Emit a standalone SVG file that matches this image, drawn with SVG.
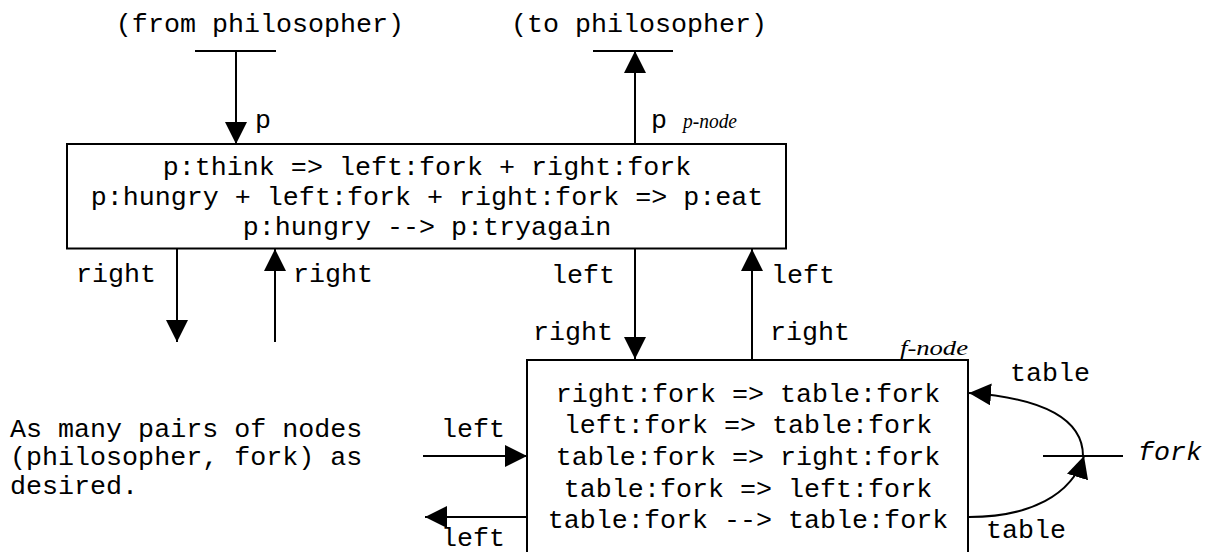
<svg xmlns="http://www.w3.org/2000/svg" width="1208" height="552" viewBox="0 0 1208 552">
  <style>
    .mono { font-family: "Liberation Mono", "Courier New", monospace; font-size: 26.7px; fill: #000; }
    .ital { font-family: "Liberation Serif", "Times New Roman", serif; font-style: italic; font-size: 21px; fill: #000; }
    .monoit { font-family: "Liberation Mono", "Courier New", monospace; font-style: italic; font-size: 26.7px; fill: #000; }
    .box { fill: #fff; stroke: #000; stroke-width: 2; }
    .wire { fill: none; stroke: #000; stroke-width: 2; }
    .mid { text-anchor: middle; }
  </style>
  <defs>
    <marker id="arrow" markerUnits="userSpaceOnUse" markerWidth="22" markerHeight="22" viewBox="0 0 20 20" refX="20" refY="10" orient="auto">
      <path d="M0,0 L20,10 L0,20 Z" fill="#000"/>
    </marker>
  </defs>
  <rect width="1208" height="552" fill="#fff"/>

  <!-- p-node: philosopher rules -->
  <g id="p-node">
    <rect class="box" x="67" y="144" width="719" height="104.5"/>
    <text class="mono mid" x="427" y="175">p:think =&gt; left:fork + right:fork</text>
    <text class="mono mid" x="427" y="205">p:hungry + left:fork + right:fork =&gt; p:eat</text>
    <text class="mono mid" x="427" y="235">p:hungry --&gt; p:tryagain</text>
    <text class="ital" x="683" y="128" textLength="54" lengthAdjust="spacingAndGlyphs">p-node</text>
  </g>

  <!-- f-node: fork rules (box runs past the bottom edge) -->
  <g id="f-node">
    <path class="box" d="M527,560 L527,360 L968,360 L968,560"/>
    <text class="mono mid" x="748" y="401.7">right:fork =&gt; table:fork</text>
    <text class="mono mid" x="748" y="433.3">left:fork =&gt; table:fork</text>
    <text class="mono mid" x="748" y="465">table:fork =&gt; right:fork</text>
    <text class="mono mid" x="748" y="496.7">table:fork =&gt; left:fork</text>
    <text class="mono mid" x="748" y="528.3">table:fork --&gt; table:fork</text>
    <text class="ital" x="900" y="355" textLength="68" lengthAdjust="spacingAndGlyphs">f-node</text>
  </g>

  <!-- external ports -->
  <g id="port-from-philosopher">
    <line class="wire" x1="195" y1="51" x2="276" y2="51"/>
    <text class="mono mid" x="260" y="32">(from philosopher)</text>
  </g>
  <g id="port-to-philosopher">
    <line class="wire" x1="593" y1="51" x2="673" y2="51"/>
    <text class="mono mid" x="639" y="32">(to philosopher)</text>
  </g>
  <g id="port-fork">
    <line class="wire" x1="1043" y1="456" x2="1123" y2="456"/>
    <text class="monoit" x="1138" y="460">fork</text>
  </g>

  <g id="note">
    <text class="mono" x="10" y="437">As many pairs of nodes</text>
    <text class="mono" x="10" y="465">(philosopher, fork) as</text>
    <text class="mono" x="10" y="494">desired.</text>
  </g>

  <!-- connectors -->
  <g id="connectors">
    <line class="wire" x1="236" y1="51" x2="236" y2="144" marker-end="url(#arrow)"/>
    <line class="wire" x1="635" y1="144" x2="635" y2="51" marker-end="url(#arrow)"/>

    <line class="wire" x1="177" y1="249" x2="177" y2="342" marker-end="url(#arrow)"/>
    <line class="wire" x1="275" y1="342" x2="275" y2="249" marker-end="url(#arrow)"/>

    <line class="wire" x1="635" y1="249" x2="635" y2="359" marker-end="url(#arrow)"/>
    <line class="wire" x1="752" y1="360" x2="752" y2="249" marker-end="url(#arrow)"/>

    <line class="wire" x1="423" y1="456" x2="527" y2="456" marker-end="url(#arrow)"/>
    <line class="wire" x1="527" y1="517" x2="425" y2="517" marker-end="url(#arrow)"/>

    <path class="wire" d="M1083,456 C1083,420 1045,398 969,393" marker-end="url(#arrow)"/>
    <path class="wire" d="M969,517 C1030,517 1072,495 1084,456" marker-end="url(#arrow)"/>
  </g>

  <!-- connector labels -->
  <g id="connector-labels">
    <text class="mono" x="255" y="128">p</text>
    <text class="mono" x="651" y="128">p</text>
    <text class="mono" x="76" y="282">right</text>
    <text class="mono" x="293" y="282">right</text>
    <text class="mono" x="551" y="283">left</text>
    <text class="mono" x="771" y="283">left</text>
    <text class="mono" x="533" y="340">right</text>
    <text class="mono" x="770" y="340">right</text>
    <text class="mono" x="441" y="437">left</text>
    <text class="mono" x="441" y="546">left</text>
    <text class="mono" x="1010" y="381">table</text>
    <text class="mono" x="986" y="538">table</text>
  </g>
</svg>
